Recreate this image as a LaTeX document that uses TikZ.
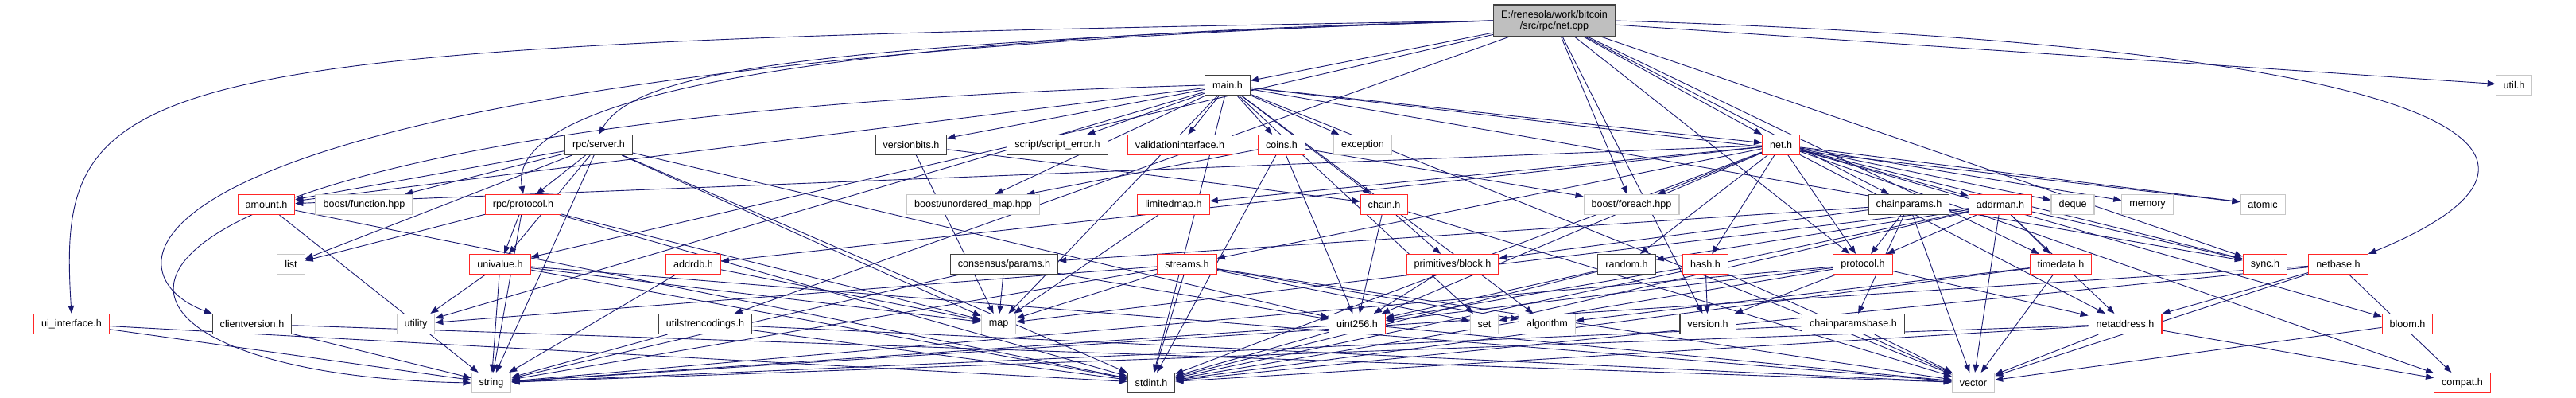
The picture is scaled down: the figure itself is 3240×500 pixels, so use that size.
\documentclass[tikz,border=0pt]{standalone}
\usepackage{fontspec}
\setmainfont{Liberation Sans}
\usetikzlibrary{arrows.meta,backgrounds}
\definecolor{edgeblue}{HTML}{191970}
\definecolor{rootgray}{HTML}{BFBFBF}

\begin{document}
\begin{tikzpicture}[x=1pt, y=-1pt,
    hdr/.style={draw=black!75, fill=white, line width=1.1pt, inner xsep=9.5pt, inner ysep=0pt, minimum height=25pt, font=\fontsize{12.6}{14}\selectfont},
    trunc/.style={hdr, draw=red!85},
    ext/.style={hdr, draw=black!22},
    root/.style={hdr, fill=rootgray, align=center, minimum height=40pt},
    dep/.style={-{Triangle[length=10pt,width=7.5pt]}, draw=edgeblue, line width=0.9pt}
]
\useasboundingbox (0,0) rectangle (3240,500);

% top
\node[root] (netcpp) at (1955,26) {E:/renesola/work/bitcoin\\/src/rpc/net.cpp};
\node[hdr] (main) at (1544,107) {main.h};
\node[ext] (util) at (3162,107) {util.h};

% row 2
\node[hdr] (rpcserver) at (753,182) {rpc/server.h};
\node[hdr] (versionbits) at (1146,182) {versionbits.h};
\node[hdr] (scripterror) at (1330,182) {script/script\_error.h};
\node[trunc] (validation) at (1484,182) {validationinterface.h};
\node[trunc] (coins) at (1612,182) {coins.h};
\node[ext] (exception) at (1714,182) {exception};
\node[trunc] (neth) at (2240,182) {net.h};

% row 3
\node[trunc] (amount) at (335,257) {amount.h};
\node[ext] (function) at (458,257) {boost/function.hpp};
\node[trunc] (rpcprotocol) at (658,257) {rpc/protocol.h};
\node[ext] (unorderedmap) at (1224,257) {boost/unordered\_map.hpp};
\node[trunc] (limitedmap) at (1476,257) {limitedmap.h};
\node[trunc] (chain) at (1741,257) {chain.h};
\node[ext] (foreach) at (2052,257) {boost/foreach.hpp};
\node[hdr] (chainparams) at (2401,257) {chainparams.h};
\node[trunc] (addrman) at (2516,257) {addrman.h};
\node[ext] (deque) at (2607,257) {deque};
\node[ext] (memory) at (2701,257) {memory};
\node[ext] (atomic) at (2846,257) {atomic};

% row 4
\node[ext] (list) at (366,332) {list};
\node[trunc] (univalue) at (629,332) {univalue.h};
\node[trunc] (addrdb) at (872,332) {addrdb.h};
\node[hdr] (consensus) at (1263,332) {consensus/params.h};
\node[trunc] (streams) at (1493,332) {streams.h};
\node[trunc] (primblock) at (1827,332) {primitives/block.h};
\node[hdr] (random) at (2046,332) {random.h};
\node[trunc] (hash) at (2145,332) {hash.h};
\node[trunc] (protocol) at (2343,332) {protocol.h};
\node[trunc] (timedata) at (2592,332) {timedata.h};
\node[trunc] (sync) at (2849,332) {sync.h};
\node[trunc] (netbase) at (2941,332) {netbase.h};

% row 5
\node[trunc] (uiinterface) at (90,407) {ui\_interface.h};
\node[hdr] (clientversion) at (317,407) {clientversion.h};
\node[ext] (utility) at (523,407) {utility};
\node[hdr] (utilstrenc) at (887,407) {utilstrencodings.h};
\node[ext] (map) at (1256,407) {map};
\node[trunc] (uint256) at (1707,407) {uint256.h};
\node[ext] (set) at (1867,407) {set};
\node[ext] (algorithm) at (1946,407) {algorithm};
\node[hdr] (version) at (2148,407) {version.h};
\node[hdr] (chainparamsbase) at (2331,407) {chainparamsbase.h};
\node[trunc] (netaddress) at (2673,407) {netaddress.h};
\node[trunc] (bloom) at (3028,407) {bloom.h};

% bottom
\node[ext] (string) at (618,481) {string};
\node[hdr] (stdint) at (1448,481) {stdint.h};
\node[ext] (vector) at (2482,481) {vector};
\node[trunc] (compat) at (3097,481) {compat.h};

\begin{scope}[on background layer]
% long routed edges
\draw[dep] (netcpp.west) .. controls (150,55) and (70,80) .. (uiinterface.north);
\draw[dep] (netcpp.west) .. controls (110,80) and (120,340) .. (clientversion.north west);
\draw[dep] (netcpp.west) .. controls (1000,55) and (800,90) .. (rpcserver.north);
\draw[dep] (netcpp.west) .. controls (900,50) and (640,140) .. (rpcprotocol.north);
\draw[dep] (netcpp.east) .. controls (3150,60) and (3270,200) .. (netbase.north east);
\draw[dep] (main.west) .. controls (-30,150) and (10,470) .. (string.west);
\foreach \t in {main,util,univalue,neth,chainparams,sync,protocol,timedata,version,utilstrenc,foreach}
  \draw[dep] (netcpp) -- (\t);
\foreach \t in {amount,chain,coins,neth,scripterror,sync,versionbits,validation,exception,algorithm,map,set,stdint,utility,vector,atomic,unorderedmap}
  \draw[dep] (main) -- (\t);
\foreach \t in {addrdb,addrman,amount,bloom,compat,hash,limitedmap,netaddress,protocol,random,streams,sync,uint256,atomic,deque,stdint,memory,foreach}
  \draw[dep] (neth) -- (\t);
\foreach \a/\b in {rpcserver/amount,rpcserver/rpcprotocol,rpcserver/univalue,rpcserver/list,rpcserver/map,rpcserver/stdint,rpcserver/string,rpcserver/function,rpcserver/uint256,
    rpcprotocol/list,rpcprotocol/map,rpcprotocol/stdint,rpcprotocol/string,rpcprotocol/univalue,
    amount/string,amount/stdint,
    univalue/stdint,univalue/string,univalue/vector,univalue/map,univalue/utility,
    uiinterface/stdint,uiinterface/string,
    clientversion/string,clientversion/vector,
    utilstrenc/stdint,utilstrenc/string,utilstrenc/vector,
    versionbits/chain,versionbits/map,
    coins/uint256,coins/stdint,coins/foreach,coins/unorderedmap,
    limitedmap/map,
    chain/primblock,chain/uint256,chain/vector,
    primblock/uint256,
    consensus/map,consensus/string,consensus/uint256,
    streams/algorithm,streams/map,streams/set,streams/stdint,streams/string,streams/utility,streams/vector,
    addrdb/string,addrdb/map,
    chainparams/chainparamsbase,chainparams/consensus,chainparams/primblock,chainparams/protocol,chainparams/vector,
    addrman/netaddress,addrman/protocol,addrman/random,addrman/sync,addrman/timedata,addrman/map,addrman/set,addrman/stdint,addrman/vector,
    random/uint256,random/stdint,
    hash/uint256,hash/version,hash/vector,
    protocol/netaddress,protocol/uint256,protocol/version,protocol/stdint,protocol/string,
    timedata/algorithm,timedata/stdint,timedata/vector,
    netbase/compat,netbase/netaddress,netbase/stdint,netbase/string,netbase/vector,
    netaddress/compat,netaddress/stdint,netaddress/string,netaddress/vector,
    bloom/vector,
    uint256/stdint,uint256/string,uint256/vector,
    chainparamsbase/string,chainparamsbase/vector}
  \draw[dep] (\a) -- (\b);
\end{scope}
\end{tikzpicture}
\end{document}
